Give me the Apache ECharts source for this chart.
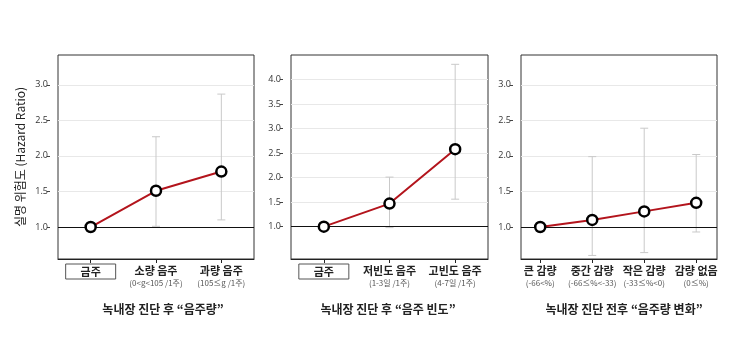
<!DOCTYPE html>
<html><head><meta charset="utf-8">
<script src="https://cdn.jsdelivr.net/npm/echarts@6/dist/echarts.min.js"></script>
<style>html,body{margin:0;padding:0;background:#fff}#c{width:730px;height:359px}</style>
</head><body><div id="c"></div>
<script>
// Panel 1: 음주량
const cats1 = ['금주', '소량 음주', '과량 음주'];
const subs1 = ['', '(0<g<105 /1주)', '(105≤g /1주)'];
const hr1 = [1.0, 1.51, 1.78];
const lo1 = [null, 1.01, 1.10];
const hi1 = [null, 2.27, 2.87];
// Panel 2: 음주 빈도
const cats2 = ['금주', '저빈도 음주', '고빈도 음주'];
const subs2 = ['', '(1-3일 /1주)', '(4-7일 /1주)'];
const hr2 = [1.0, 1.47, 2.58];
const lo2 = [null, 0.98, 1.56];
const hi2 = [null, 2.01, 4.31];
// Panel 3: 음주량 변화
const cats3 = ['큰 감량', '중간 감량', '작은 감량', '감량 없음'];
const subs3 = ['(-66<%)', '(-66≤%<-33)', '(-33≤%<0)', '(0≤%)'];
const hr3 = [1.0, 1.10, 1.22, 1.34];
const lo3 = [null, 0.60, 0.64, 0.93];
const hi3 = [null, 1.99, 2.39, 2.02];
const yTicks1 = [1.0, 1.5, 2.0, 2.5, 3.0];
const yTicks2 = [1.0, 1.5, 2.0, 2.5, 3.0, 3.5, 4.0];
const titles = ['녹내장 진단 후 “음주량”', '녹내장 진단 후 “음주 빈도”', '녹내장 진단 전후 “음주량 변화”'];
const yName = '실명 위험도 (Hazard Ratio)';

const FONT = '"Noto Sans CJK KR", "Noto Sans", sans-serif';
const chart = echarts.init(document.getElementById('c'));

const panels = [
  {cats: cats1, subs: subs1, hr: hr1, lo: lo1, hi: hi1, yt: yTicks1, left: 58, width: 196, ymin: 0.55, ymax: 3.42, xmin: -0.5, xmax: 2.5, boxFirst: true, tx: 163},
  {cats: cats2, subs: subs2, hr: hr2, lo: lo2, hi: hi2, yt: yTicks2, left: 291, width: 197, ymin: 0.34, ymax: 4.5, xmin: -0.5, xmax: 2.5, boxFirst: true, tx: 388},
  {cats: cats3, subs: subs3, hr: hr3, lo: lo3, hi: hi3, yt: yTicks1, left: 521, width: 196, ymin: 0.55, ymax: 3.42, xmin: -0.37, xmax: 3.4, boxFirst: false, tx: 624}
];

const grid = [], xAxis = [], yAxis = [], series = [], graphic = [];
panels.forEach((p, i) => {
  grid.push({left: p.left, top: 55, width: p.width, height: 204, show: true, borderColor: '#333', borderWidth: 1, backgroundColor: 'transparent'});
  const idx = p.cats.map((_, k) => k);
  xAxis.push({
    type: 'value', gridIndex: i, min: p.xmin, max: p.xmax,
    axisLine: {show: true, onZero: false, lineStyle: {color: '#222', width: 1}},
    splitLine: {show: false},
    axisTick: {show: true, customValues: idx, length: 4, lineStyle: {color: '#222'}},
    axisLabel: {
      customValues: idx, margin: 5,
      formatter: v => {
        const k = Math.round(v);
        if (p.boxFirst && k === 0) return '{box|' + p.cats[k] + '}';
        return '{main|' + p.cats[k] + '}\n{sub|' + p.subs[k] + '}';
      },
      rich: {
        box: {fontFamily: FONT, fontSize: 11, fontWeight: 'bold', color: '#222', borderColor: '#555', borderWidth: 1, width: 50, height: 15, align: 'center', lineHeight: 15},
        main: {fontFamily: FONT, fontSize: 11, fontWeight: 'bold', color: '#222', lineHeight: 14, align: 'center'},
        sub: {fontFamily: FONT, fontSize: 8, color: '#555', lineHeight: 10, align: 'center'}
      }
    }
  });
  yAxis.push({
    type: 'value', gridIndex: i, min: p.ymin, max: p.ymax, offset: 8,
    name: i === 0 ? yName : '', nameLocation: 'middle', nameGap: 24,
    nameTextStyle: {fontFamily: FONT, fontSize: 12, color: '#222'},
    axisLine: {show: false, onZero: false},
    axisTick: {show: true, customValues: p.yt, length: 3, lineStyle: {color: '#444'}},
    axisLabel: {customValues: p.yt, margin: 2, fontSize: 9, color: '#333', fontFamily: '"Open Sans", sans-serif', formatter: v => v.toFixed(1)},
    splitLine: {show: false}
  });
  const errData = idx.filter(k => p.lo[k] != null).map(k => [k, p.lo[k], p.hi[k]]);
  series.push({
    type: 'custom', xAxisIndex: i, yAxisIndex: i, z: 2,
    data: errData,
    renderItem: (params, api) => {
      const x = api.value(0);
      const a = api.coord([x, api.value(1)]);
      const b = api.coord([x, api.value(2)]);
      const hw = 4;
      const st = {stroke: '#c9c9c9', lineWidth: 1};
      return {type: 'group', children: [
        {type: 'line', shape: {x1: a[0], y1: a[1], x2: b[0], y2: b[1]}, style: st},
        {type: 'line', shape: {x1: a[0] - hw, y1: a[1], x2: a[0] + hw, y2: a[1]}, style: st},
        {type: 'line', shape: {x1: b[0] - hw, y1: b[1], x2: b[0] + hw, y2: b[1]}, style: st}
      ]};
    },
    markLine: {silent: true, symbol: 'none', z: 1, label: {show: false},
      lineStyle: {color: '#e8e8e8', width: 1, type: 'solid'},
      data: p.yt.filter(v => v !== 1).map(v => ({yAxis: v}))}
  });
  series.push({
    type: 'line', xAxisIndex: i, yAxisIndex: i, z: 5,
    data: idx.map(k => [k, p.hr[k]]),
    lineStyle: {color: '#b3141c', width: 2},
    symbol: 'circle', symbolSize: 10,
    itemStyle: {color: '#fff', borderColor: '#000', borderWidth: 2.5},
    markLine: {silent: true, symbol: 'none', z: 3, label: {show: false},
      lineStyle: {color: '#111', width: 1, type: 'solid'},
      data: [{yAxis: 1}]}
  });
  graphic.push({type: 'text', x: p.tx, y: 303,
    style: {text: titles[i], font: 'bold 12px ' + FONT, fill: '#222', textAlign: 'center'}});
});

chart.setOption({animation: false, grid, xAxis, yAxis, series, graphic});
</script>
</body></html>
